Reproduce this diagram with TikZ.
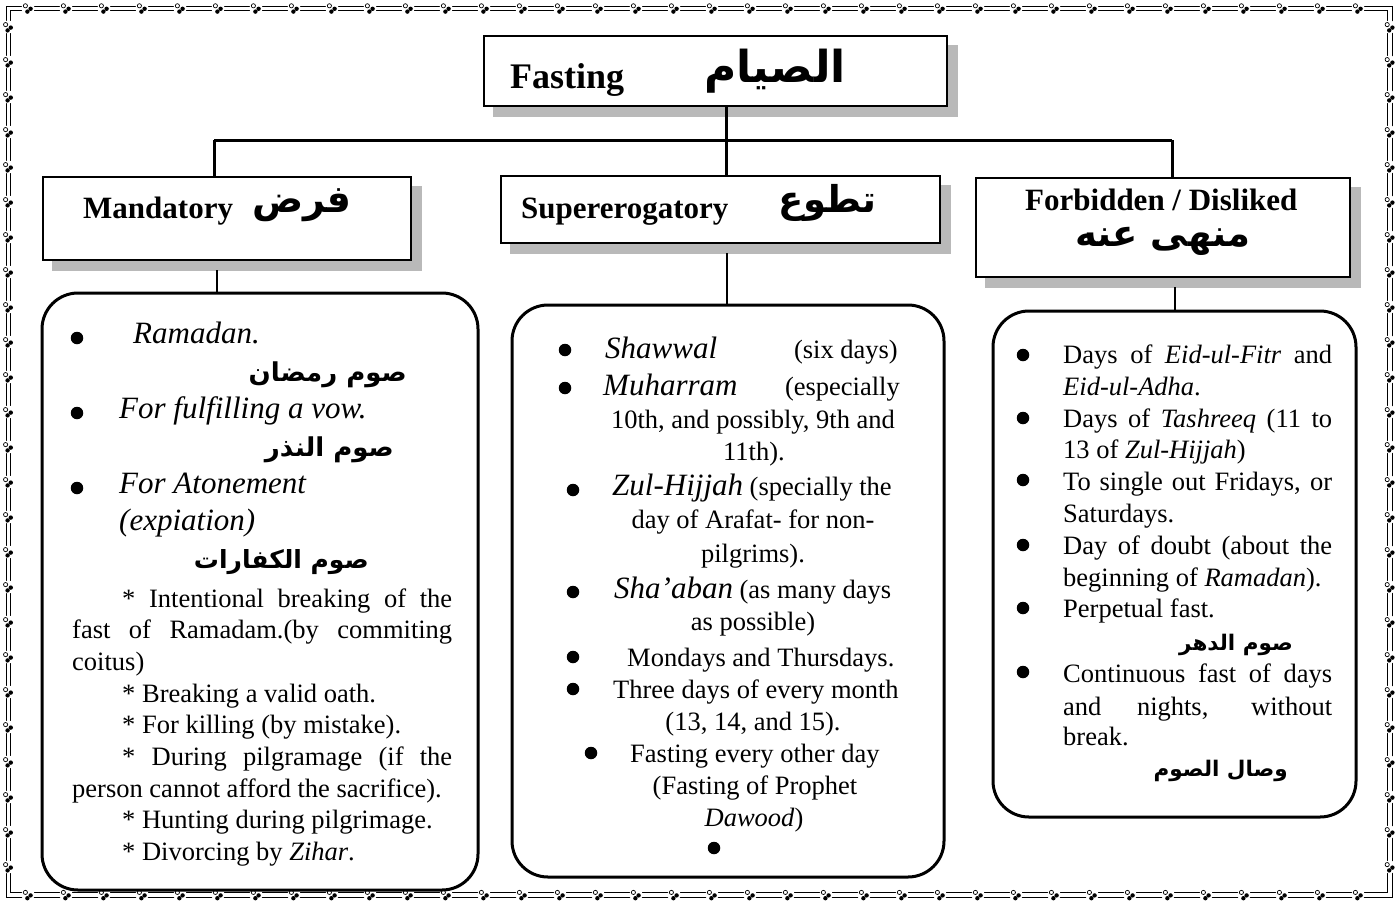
\documentclass[tikz,border=0pt]{standalone}
\usepackage{fontspec}
\setmainfont{Liberation Serif}
\newfontfamily\arabicfont[Script=Arabic]{DejaVu Sans}
\TeXXeTstate=1
\usetikzlibrary{backgrounds}
\newcommand\FstBigIt{\fontsize{31}{36}\selectfont\itshape}
\tikzset{
  clus/.pic={
    \fill[white] (0,0) circle (6.5pt);
    \draw[line width=0.7pt] (-2.6,-2.4) circle (2.1pt);
    \fill (2.6,0.6) circle (2.2pt);
    \fill (-0.6,3.4) circle (2.2pt);
  },
  hbox/.style={draw, line width=1.6pt, fill=white, inner sep=0pt},
  rbox/.style={draw, line width=3pt, rounded corners=36pt, inner sep=0pt},
  shadowc/.style={fill=gray!55},
  tx/.style={inner sep=0pt, anchor=base west, font=\fontsize{26.5}{32}\selectfont},
  txc/.style={tx, anchor=base},
  txe/.style={tx, anchor=base east},
  txi/.style={inner sep=0pt, anchor=base west, font=\FstBigIt},
  ar/.style={inner sep=0pt, anchor=base east, font=\fontsize{26}{30}\selectfont\arabicfont\bfseries},
  ars/.style={ar, font=\fontsize{21.5}{26}\selectfont\arabicfont\bfseries},
  arh/.style={inner sep=0pt, anchor=base east, font=\fontsize{37}{42}\selectfont\arabicfont\bfseries},
  hd/.style={inner sep=0pt, anchor=base west, font=\fontsize{31}{36}\selectfont\bfseries},
  bul/.style={circle, fill, inner sep=0pt, minimum size=12.5pt},
  thickc/.style={line width=3pt},
  thinc/.style={line width=1.6pt},
}
\begin{document}
\begin{tikzpicture}[x=1pt,y=-1pt]
\useasboundingbox (0,0) rectangle (1398,903);

% decorative frame
\draw[line width=0.7pt] (6,6) rectangle (1392,897);
\draw[line width=0.7pt] (10.5,10.5) rectangle (1387.5,892.5);
\foreach \x in {28,66,...,1375} {\pic at (\x,8.2) {clus}; \pic at (\x,894.8) {clus};}
\foreach \y in {27,62,...,880} {\pic at (8.2,\y) {clus}; \pic at (1389.8,\y) {clus};}

% header boxes
\node[hbox, minimum width=463pt, minimum height=70pt] (title) at (715.5,71) {};
\node[hbox, minimum width=368pt, minimum height=83pt] (mand) at (227,218.5) {};
\node[hbox, minimum width=439pt, minimum height=67pt] (supe) at (720.5,209.5) {};
\node[hbox, minimum width=374pt, minimum height=99pt] (forb) at (1163,227.5) {};

% rounded boxes
\node[rbox, minimum width=436pt, minimum height=597pt] (lbox) at (260,591.5) {};
\node[rbox, minimum width=432pt, minimum height=572pt] (mbox) at (728,591) {};
\node[rbox, minimum width=363pt, minimum height=506pt] (rbox) at (1174.5,564) {};

\begin{scope}[on background layer]
  \fill[white] (0,0) rectangle (1398,903);
  \foreach \n in {title,mand,supe,forb}
    \fill[shadowc] ([shift={(10pt,-10pt)}]\n.north west) rectangle ([shift={(10pt,-10pt)}]\n.south east);
\end{scope}

% connectors
\coordinate (jl) at (214,140);
\coordinate (jm) at (726,140);
\coordinate (jr) at (1172,140);
\draw[thickc] (jl) -- (jr);
\draw[thickc] (jm) -- (title.south -| jm);
\draw[thickc] (jl) -- (mand.north -| jl);
\draw[thickc] (jm) -- (supe.north -| jm);
\draw[thickc] (jr) -- (forb.north -| jr);
\coordinate (dl) at (217,270);
\coordinate (dm) at (727,253);
\coordinate (dr) at (1175,287);
\draw[thinc] (dl) -- (lbox.north -| dl);
\draw[thinc] (dm) -- (mbox.north -| dm);
\draw[thinc] (dr) -- (rbox.north -| dr);

% header texts
\node[hd, font=\fontsize{36}{40}\selectfont\bfseries] (t1) at (510,88) {Fasting};
\node[arh, font=\fontsize{44}{50}\selectfont\arabicfont\bfseries] (t2) at (846,82) {\beginR الصيام\endR};
\node[hd] (m1) at (83,218) {Mandatory};
\node[arh, font=\fontsize{38}{44}\selectfont\arabicfont\bfseries] (m2) at (352,212) {\beginR فرض\endR};
\node[hd] (s1) at (521,218) {Supererogatory};
\node[arh] (s2) at (877,212) {\beginR تطوع\endR};
\node[hd] (f1) at (1025,210) {Forbidden / Disliked};
\node[arh] (f2) at (1251,246) {\beginR منهى عنه\endR};

% left box
\node[bul] (lb1) at (77,338) {};
\node[txi] (l1) at (133,343) {Ramadan.};
\node[ar] (la1) at (407,381) {\beginR صوم رمضان\endR};
\node[bul] (lb2) at (77,413) {};
\node[txi] (l2) at (119,418) {For fulfilling a vow.};
\node[ar] (la2) at (394,456) {\beginR صوم النذر\endR};
\node[bul] (lb3) at (77,488) {};
\node[txi] (l3) at (119,493) {For Atonement};
\node[txi] (l3b) at (119,530) {(expiation)};
\node[ar, font=\fontsize{25}{30}\selectfont\arabicfont\bfseries] (la3) at (369,568) {\beginR صوم الكفارات\endR};
\node[tx] (l4) at (122,607) {\makebox[330pt][s]{* Intentional breaking of the}};
\node[tx] (l5) at (72,638) {\makebox[380pt][s]{fast of Ramadam.(by commiting}};
\node[tx] (l6) at (72,670) {coitus)};
\node[tx] (l7) at (122,702) {* Breaking a valid oath.};
\node[tx] (l8) at (122,733) {* For killing (by mistake).};
\node[tx] (l9) at (122,765) {\makebox[330pt][s]{* During pilgramage (if the}};
\node[tx] (l10) at (72,797) {person cannot afford the sacrifice).};
\node[tx] (l11) at (122,828) {* Hunting during pilgrimage.};
\node[tx] (l12) at (122,860) {* Divorcing by \textit{Zihar}.};

% middle box
\node[bul] (mb1) at (565,350) {};
\node[txi] (m3) at (605,358) {Shawwal};
\node[txe] (m4) at (898,358) {(six days)};
\node[bul] (mb2) at (565,388) {};
\node[txi] (m5) at (603,395) {Muharram};
\node[txe] (m6) at (900,395) {(especially};
\node[txc] (m7) at (753,428) {10th, and possibly, 9th and};
\node[txc] (m8) at (754,460) {11th).};
\node[bul] (mb3) at (573,490) {};
\node[tx] (m9) at (612,495) {{\FstBigIt Zul-Hijjah} (specially the};
\node[txc] (m10) at (753,528) {day of Arafat- for non-};
\node[txc] (m11) at (753,562) {pilgrims).};
\node[bul] (mb4) at (573,592) {};
\node[tx] (m12) at (614,598) {{\FstBigIt Sha’aban} (as many days};
\node[txc] (m13) at (753,630) {as possible)};
\node[bul] (mb5) at (573,657) {};
\node[tx] (m14) at (627,666) {Mondays and Thursdays.};
\node[bul] (mb6) at (573,689) {};
\node[tx] (m15) at (613,698) {Three days of every month};
\node[txc] (m16) at (753,730) {(13, 14, and 15).};
\node[bul] (mb7) at (591,753) {};
\node[tx] (m17) at (630,762) {Fasting every other day};
\node[txc] (m18) at (755,794) {(Fasting of Prophet};
\node[txc] (m19) at (754,826) {\textit{Dawood})};
\node[bul] (mb8) at (714,848) {};

% right box
\node[bul] (rb1) at (1023,355) {};
\node[tx] (r1) at (1063,363) {\makebox[269pt][s]{Days of \textit{Eid-ul-Fitr} and}};
\node[tx] (r2) at (1063,395) {\textit{Eid-ul-Adha}.};
\node[bul] (rb2) at (1023,418) {};
\node[tx] (r3) at (1063,427) {\makebox[269pt][s]{Days of \textit{Tashreeq} (11 to}};
\node[tx] (r4) at (1063,458) {13 of \textit{Zul-Hijjah})};
\node[bul] (rb3) at (1023,480) {};
\node[tx] (r5) at (1063,490) {\makebox[269pt][s]{To single out Fridays, or}};
\node[tx] (r6) at (1063,522) {Saturdays.};
\node[bul] (rb4) at (1023,545) {};
\node[tx] (r7) at (1063,554) {\makebox[269pt][s]{Day of doubt (about the}};
\node[tx] (r8) at (1063,586) {beginning of \textit{Ramadan}).};
\node[bul] (rb5) at (1023,608) {};
\node[tx] (r9) at (1063,617) {Perpetual fast.};
\node[ars] (ra1) at (1293,650) {\beginR صوم الدهر\endR};
\node[bul] (rb6) at (1023,672) {};
\node[tx] (r10) at (1063,682) {\makebox[269pt][s]{Continuous fast of days}};
\node[tx] (r11) at (1063,715) {\makebox[269pt][s]{and nights, without}};
\node[tx] (r12) at (1063,745) {break.};
\node[ars] (ra2) at (1288,776) {\beginR وصال الصوم\endR};
\end{tikzpicture}
\end{document}
